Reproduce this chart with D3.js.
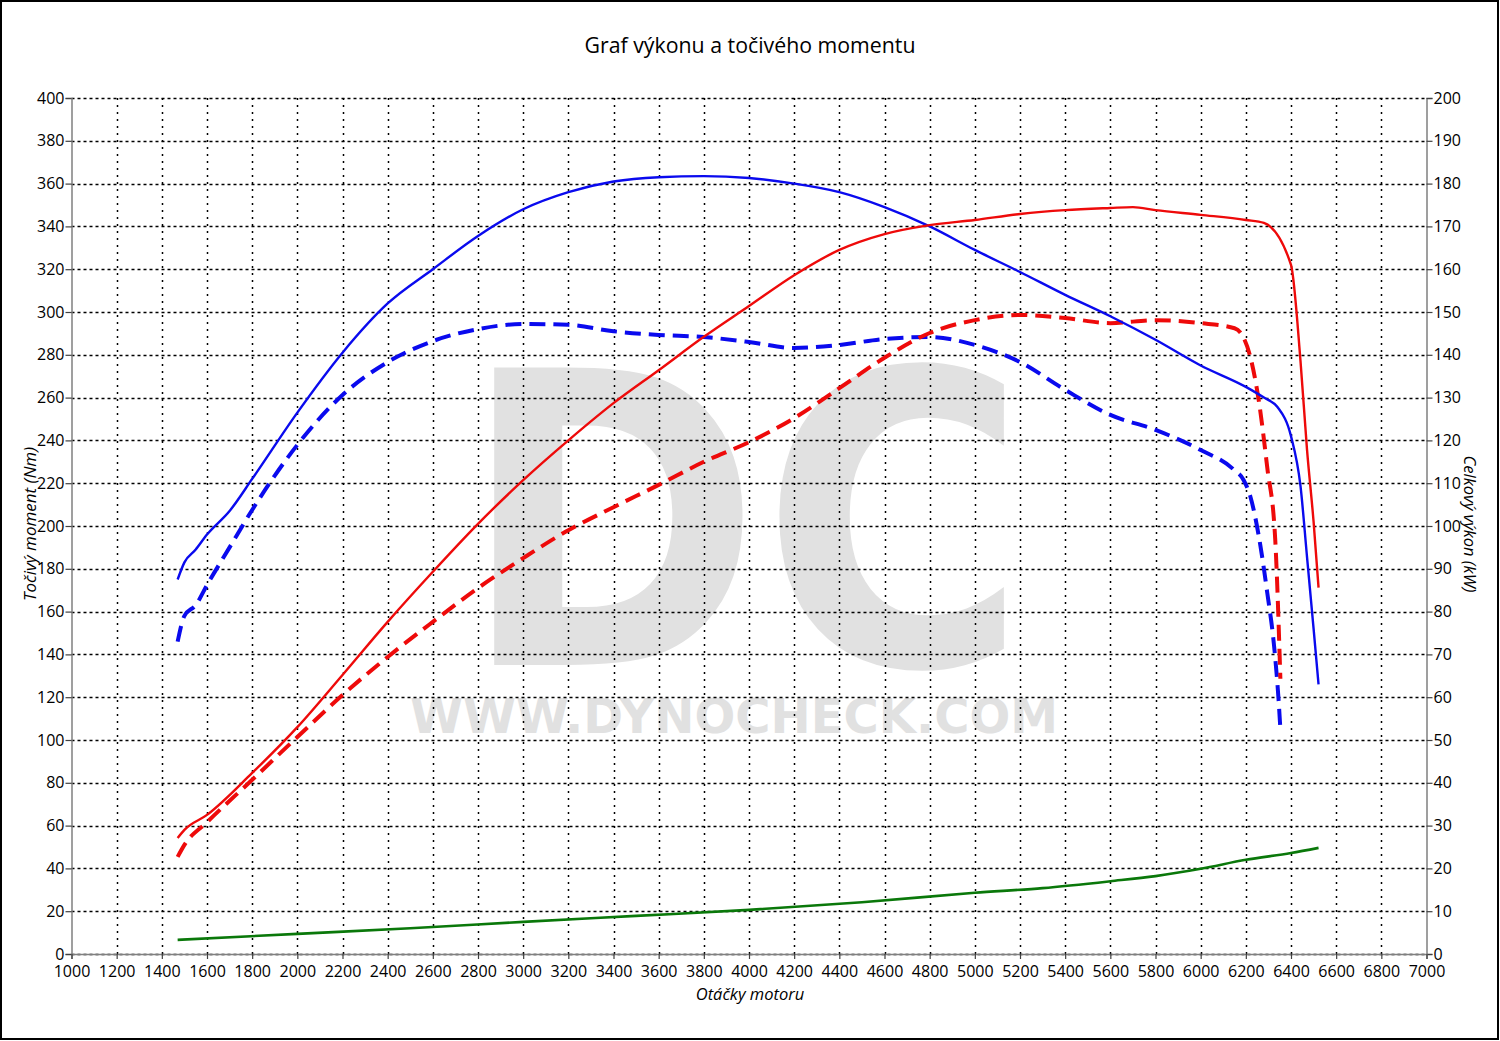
<!DOCTYPE html>
<html><head><meta charset="utf-8">
<script src="https://cdn.jsdelivr.net/npm/d3@7"></script>
<style>
html,body{margin:0;padding:0;background:#fff;}
svg{display:block;font-family:"Open Sans","Noto Sans",sans-serif;}
</style></head>
<body><svg id="c" width="1500" height="1041"></svg>
<script>
// ---- data ----
const title = "Graf výkonu a točivého momentu";
const xLabel = "Otáčky motoru";
const yLeftLabel = "Točivý moment (Nm)";
const yRightLabel = "Celkový výkon (kW)";
const watermarkBig = "DC";
const watermarkSmall = "WWW.DYNOCHECK.COM";
const rpmTicks = d3.range(1000, 7001, 200);
const nmTicks = d3.range(0, 401, 20);
const kwTicks = d3.range(0, 201, 10);

// tuned torque (Nm, solid blue)
const torqueTunedRpm = [1470,1500,1550,1600,1700,1800,2000,2200,2400,2600,2800,3000,3200,3400,3600,3800,4000,4200,4400,4600,4800,5000,5200,5400,5600,5800,6000,6200,6280,6340,6400,6442,6471,6500,6522];
const torqueTunedNm  = [175,183,189,196,207,222,253,281,304,320,335.5,348,356,361,363,363.5,362.6,360,356,349,340,329,318.7,308,298,287,275,265,260,255.6,242,218.7,185.5,152,126];
// stock torque (Nm, dashed blue)
const torqueStockRpm = [1470,1500,1550,1600,1700,1800,2000,2200,2400,2600,2800,3000,3200,3400,3600,3800,4000,4200,4400,4600,4800,5000,5200,5400,5600,5800,6000,6147,6190,6220,6257,6295,6325,6345,6353];
const torqueStockNm  = [146,158,163,172.4,190,207.5,237.9,261.2,276.6,286.4,292,294.4,294,291,289.3,288.3,286,283.2,284.6,287.4,288.3,284.6,276.6,263.6,251.9,244.9,235.5,226.3,221.5,213.8,195.5,168.7,144,118.7,105];
// tuned power (kW, solid red)
const powerTunedRpm = [1470,1500,1600,1800,2000,2200,2400,2600,2800,3000,3200,3400,3600,3800,4000,4200,4400,4600,4800,5000,5200,5400,5600,5700,5800,6000,6200,6280,6400,6442,6471,6500,6522];
const powerTunedKw  = [27.1,29,32.5,42.3,53,65.2,77.6,89.3,100.5,110.7,120,128.7,136.4,144.2,151.4,158.6,164.5,168.2,170.3,171.5,172.9,173.8,174.3,174.5,173.8,172.7,171.5,170.8,161,138.6,117.8,101,85.6];
// stock power (kW, dashed red)
const powerStockRpm = [1470,1500,1600,1800,2000,2200,2400,2600,2800,3000,3200,3400,3600,3800,4000,4200,4400,4600,4800,5000,5200,5400,5600,5800,6000,6150,6190,6220,6257,6295,6330,6353];
const powerStockKw  = [22.7,25.5,30.8,40.7,50.7,60.5,69.4,77.6,85.5,92.5,99,104.4,109.6,115,119.6,125.2,132.2,139.3,145.1,148.1,149.3,148.6,147.4,148.1,147.4,146.2,144,139.5,129.4,113.6,97,64.3];
// loss power (kW, green)
const lossRpm = [1470,2000,2500,3000,3500,4000,4500,5000,5300,5600,5800,6000,6200,6400,6522];
const lossKw  = [3.3,4.7,6,7.5,8.9,10.3,12.1,14.3,15.4,17,18.2,19.9,22,23.6,24.8];

// ---- layout ----
const svg = d3.select("#c");
const L = 71.5, R = 1426.5, T = 98, B = 954;
const x = d3.scaleLinear().domain([1000,7000]).range([L,R]);
const yL = d3.scaleLinear().domain([0,400]).range([B,T]);
const yR = d3.scaleLinear().domain([0,200]).range([B,T]);

svg.append("rect").attr("x",1).attr("y",1).attr("width",1497).attr("height",1038)
  .attr("fill","#fff").attr("stroke","#000").attr("stroke-width",2);

// watermark
svg.append("text").attr("x",461).attr("y",665).attr("textLength",566).attr("lengthAdjust","spacingAndGlyphs")
  .attr("font-family","'DejaVu Sans',sans-serif").attr("font-weight","bold")
  .attr("font-size",408).attr("fill","#e1e1e1").text(watermarkBig);
svg.append("text").attr("x",410).attr("y",733).attr("textLength",648).attr("lengthAdjust","spacingAndGlyphs")
  .attr("font-family","'DejaVu Sans',sans-serif").attr("font-weight","bold")
  .attr("font-size",48).attr("fill","#e1e1e1").text(watermarkSmall);

// grid
const g = svg.append("g");
g.selectAll(".hg").data(nmTicks).join("line")
  .attr("x1",L).attr("x2",R).attr("y1",d=>Math.round(yL(d))+0.5).attr("y2",d=>Math.round(yL(d))+0.5)
  .attr("stroke","#000").attr("stroke-width",1.5).attr("stroke-dasharray","3,3");
g.selectAll(".vg").data(rpmTicks.filter(d=>d>1000&&d<7000)).join("line")
  .attr("x1",d=>Math.round(x(d))+0.5).attr("x2",d=>Math.round(x(d))+0.5).attr("y1",T).attr("y2",B)
  .attr("stroke","#000").attr("stroke-width",1.5).attr("stroke-dasharray","2,5");

// axes
const fs = "16px";
const axL = svg.append("g").attr("transform",`translate(${L},0)`).call(d3.axisLeft(yL).tickValues(nmTicks).tickSize(6).tickPadding(1));
const axR = svg.append("g").attr("transform",`translate(${R},0)`).call(d3.axisRight(yR).tickValues(kwTicks).tickSize(6).tickPadding(1));
const axB = svg.append("g").attr("transform",`translate(0,${B})`).call(d3.axisBottom(x).tickValues(rpmTicks).tickSize(5).tickPadding(7).tickFormat(d3.format("d")));
[axL,axR,axB].forEach(a=>{
  a.select(".domain").attr("stroke","#808080").attr("stroke-width",1.5);
  a.selectAll(".tick line").attr("stroke","#404040").attr("stroke-width",1.2);
  a.selectAll("text").attr("font-size",fs).attr("fill","#000").attr("font-family","'Open Sans','Noto Sans',sans-serif");
});

// lines
const clipId = "clp";
svg.append("clipPath").attr("id",clipId).append("rect").attr("x",L).attr("y",T).attr("width",R-L).attr("height",B-T);
const lines = svg.append("g").attr("clip-path",`url(#${clipId})`);
function draw(rpm, vals, yScale, color, width, dash){
  const pts = rpm.map((r,i)=>[r,vals[i]]);
  lines.append("path").datum(pts)
    .attr("d", d3.line().x(d=>x(d[0])).y(d=>yScale(d[1])).curve(d3.curveMonotoneX))
    .attr("fill","none").attr("stroke",color).attr("stroke-width",width)
    .attr("stroke-dasharray",dash||null).attr("stroke-linejoin","round");
}
draw(lossRpm, lossKw, yR, "#0a780a", 2.6);
draw(torqueStockRpm, torqueStockNm, yL, "#0a0aee", 4, "16,8");
draw(powerStockRpm, powerStockKw, yR, "#ee0a0a", 4, "16,8");
draw(torqueTunedRpm, torqueTunedNm, yL, "#0a0aee", 2.4);
draw(powerTunedRpm, powerTunedKw, yR, "#ee0a0a", 2.4);

// labels
svg.append("text").attr("x",750).attr("y",53).attr("text-anchor","middle").attr("font-size","21.3px").attr("fill","#000").text(title);
svg.append("text").attr("x",750).attr("y",1000).attr("text-anchor","middle").attr("font-size","16.5px").attr("font-style","italic").attr("fill","#000").text(xLabel);
svg.append("text").attr("transform","translate(36,524) rotate(-90)").attr("text-anchor","middle").attr("font-size","17px").attr("font-style","italic").attr("fill","#000").text(yLeftLabel);
svg.append("text").attr("transform","translate(1464,524) rotate(90)").attr("text-anchor","middle").attr("font-size","16.5px").attr("font-style","italic").attr("fill","#000").text(yRightLabel);
</script></body></html>
